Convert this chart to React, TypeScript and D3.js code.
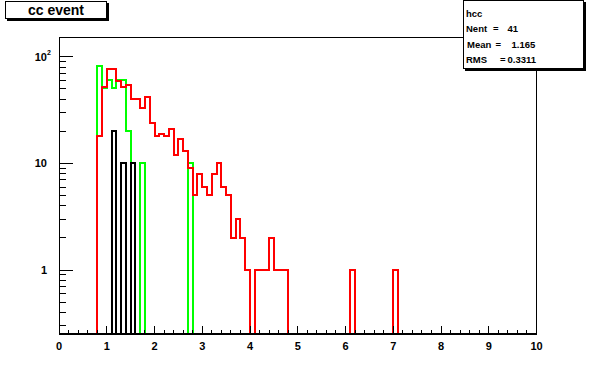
import React, { useRef, useEffect } from "react";
import * as d3 from "d3";

// [bin low edge, entries], bin width 0.1 on 0..10
const greenBins: [number, number][] = [
  [0.8, 82], [0.9, 51], [1.0, 60], [1.1, 51], [1.2, 60], [1.3, 60], [1.4, 20],
  [1.7, 10], [2.7, 10],
];
const redBins: [number, number][] = [
  [0.8, 18], [0.9, 52], [1.0, 77], [1.1, 77], [1.2, 59], [1.3, 52], [1.4, 54],
  [1.5, 40], [1.6, 40], [1.7, 33], [1.8, 42], [1.9, 24], [2.0, 18], [2.1, 19],
  [2.2, 18], [2.3, 21], [2.4, 12], [2.5, 17], [2.6, 13], [2.7, 9], [2.8, 5],
  [2.9, 8], [3.0, 6], [3.1, 5], [3.2, 8], [3.3, 10], [3.4, 6], [3.5, 5],
  [3.6, 2], [3.7, 3], [3.8, 2], [3.9, 1], [4.1, 1], [4.2, 1], [4.3, 1],
  [4.4, 2], [4.5, 1], [4.6, 1], [4.7, 1], [6.1, 1], [7.0, 1],
];
const blackBins: [number, number][] = [[1.1, 20], [1.3, 10], [1.5, 10]];

const xTicks = [0, 1, 2, 3, 4, 5, 6, 7, 8, 9, 10];
const yDecades = [1, 10, 100];
const yLabels = [["1", ""], ["10", ""], ["10", "2"]];

const title = "cc event";
const statsTitle = "hcc";
const statsNames = ["Nent", "Mean", "RMS"];
const statsValues = ["41", "1.165", "0.3311"];

const FONT = "'Liberation Sans', Arial, sans-serif";

const App: React.FC = () => {
  const svgRef = useRef<SVGSVGElement>(null);

  useEffect(() => {
    if (!svgRef.current) return;
    const svg = d3.select(svgRef.current);
    svg.selectAll("*").remove();

    const left = 59, right = 536.5, top = 37, bottom = 333.5;
    const nBins = 100, binWidth = 0.1;

    const x = d3.scaleLinear().domain([0, 10]).range([left, right]);
    const y = d3.scaleLog().domain([0.254, 153]).range([bottom, top]);

    svg.append("defs").append("clipPath").attr("id", "frame-clip")
      .append("rect").attr("x", left).attr("y", top)
      .attr("width", right - left).attr("height", bottom - top);

    // frame
    svg.append("rect")
      .attr("x", left + 0.5).attr("y", top + 0.5)
      .attr("width", right - left - 0.5).attr("height", bottom - top)
      .attr("fill", "none").attr("stroke", "#000").attr("stroke-width", 1)
      .attr("shape-rendering", "crispEdges");

    const stepPath = (bins: [number, number][]) => {
      const counts: number[] = new Array(nBins).fill(0);
      bins.forEach(([lo, n]) => { counts[Math.round(lo / binWidth)] = n; });
      const yOf = (n: number) => (n > 0 ? y(n) : bottom);
      const pts: [number, number][] = [[x(0), bottom]];
      counts.forEach((n, i) => {
        pts.push([x(i * binWidth), yOf(n)]);
        pts.push([x((i + 1) * binWidth), yOf(n)]);
      });
      pts.push([x(10), bottom]);
      return d3.line()(pts);
    };

    const hists = svg.append("g").attr("clip-path", "url(#frame-clip)");
    [[greenBins, "#00ff00"], [redBins, "#ff0000"], [blackBins, "#000000"]].forEach(([bins, color]) => {
      hists.append("path")
        .attr("d", stepPath(bins as [number, number][]))
        .attr("fill", "none")
        .attr("stroke", color as string)
        .attr("stroke-width", 2)
        .attr("stroke-linejoin", "miter")
        .attr("shape-rendering", "crispEdges");
    });

    // x axis
    const xa = svg.append("g").attr("shape-rendering", "crispEdges");
    xa.append("line")
      .attr("x1", left).attr("x2", right + 0.5)
      .attr("y1", bottom).attr("y2", bottom)
      .attr("stroke", "#000").attr("stroke-width", 2);
    d3.range(0, 50.5, 1).forEach((k) => {
      const major = k % 5 === 0;
      xa.append("line")
        .attr("x1", x(k * 0.2)).attr("x2", x(k * 0.2))
        .attr("y1", bottom).attr("y2", bottom - (major ? 8 : 4))
        .attr("stroke", "#000").attr("stroke-width", 1);
    });
    xa.selectAll("text.xl").data(xTicks).enter().append("text")
      .attr("x", (d) => x(d)).attr("y", 349.5)
      .attr("text-anchor", "middle")
      .attr("font-family", FONT).attr("font-weight", "bold").attr("font-size", 11)
      .text((d) => String(d));

    // y axis
    const ya = svg.append("g").attr("shape-rendering", "crispEdges");
    const [ymin, ymax] = y.domain();
    yDecades.forEach((dec) => {
      [0.1, 1].forEach((s) => {
        d3.range(1, 10).forEach((k) => {
          const v = dec * s * k;
          if (v < ymin || v > ymax) return;
          if (s === 0.1 && k === 1) return;
          const major = k === 1;
          ya.append("line")
            .attr("x1", left).attr("x2", left + (major ? 14 : 7))
            .attr("y1", y(v)).attr("y2", y(v))
            .attr("stroke", "#000").attr("stroke-width", 1);
        });
      });
    });
    yDecades.forEach((dec, i) => {
      const t = ya.append("text")
        .attr("x", 47).attr("y", y(dec) + 4)
        .attr("text-anchor", "end")
        .attr("font-family", FONT).attr("font-weight", "bold").attr("font-size", 11)
        .text(yLabels[i][0]);
      if (yLabels[i][1]) {
        ya.append("text")
          .attr("x", 47).attr("y", y(dec) - 2)
          .attr("font-family", FONT).attr("font-weight", "bold").attr("font-size", 7)
          .text(yLabels[i][1]);
      }
      void t;
    });

    // title box
    const tb = svg.append("g").attr("shape-rendering", "crispEdges");
    tb.append("rect").attr("x", 7).attr("y", 3).attr("width", 102).attr("height", 18).attr("fill", "#000");
    tb.append("rect").attr("x", 5.5).attr("y", 1.5).attr("width", 101).attr("height", 17)
      .attr("fill", "#fff").attr("stroke", "#000");
    tb.append("text").attr("x", 56).attr("y", 14.5).attr("text-anchor", "middle")
      .attr("font-family", FONT).attr("font-size", 14).attr("font-weight", "bold")
      .text(title);

    // stats box
    const sb = svg.append("g").attr("shape-rendering", "crispEdges");
    sb.append("rect").attr("x", 465).attr("y", 2).attr("width", 121).attr("height", 69).attr("fill", "#000");
    sb.append("rect").attr("x", 463.5).attr("y", 0.5).attr("width", 120).attr("height", 68)
      .attr("fill", "#fff").attr("stroke", "#000");
    const sf = (sel: d3.Selection<SVGTextElement, unknown, null, undefined>) =>
      sel.attr("font-family", FONT).attr("font-weight", "bold").attr("font-size", 9.5);
    sf(sb.append("text").attr("x", 466).attr("y", 16.5).text(statsTitle));
    const eqX = [493, 495.5, 500];
    const valX = [507.5, 511.5, 507.5];
    const nameX = [466, 467, 466];
    statsNames.forEach((name, i) => {
      const by = 32 + i * 15.7;
      sf(sb.append("text").attr("x", nameX[i]).attr("y", by).text(name));
      sf(sb.append("text").attr("x", eqX[i]).attr("y", by).text("="));
      sf(sb.append("text").attr("x", valX[i]).attr("y", by).text(statsValues[i]));
    });

    return () => {
      svg.selectAll("*").remove();
    };
  }, []);

  return (
    <svg
      ref={svgRef}
      width={596}
      height={372}
      style={{ position: "absolute", left: 0, top: 0, background: "#fff" }}
    />
  );
};

export default App;
